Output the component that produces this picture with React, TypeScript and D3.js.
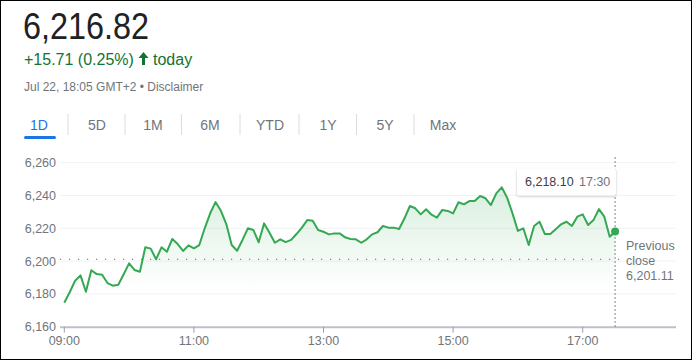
import React from "react";
import * as d3 from "d3";

// 5-minute closes, 09:00 -> 17:30
const prices = [
  6174.6, 6181, 6188, 6191.3, 6181.3, 6194.4, 6192.1, 6191.7, 6186.6, 6185, 6185.6, 6192,
  6198.6, 6194.6, 6193.5, 6208.4, 6207.6, 6201.1, 6208.4, 6205.7, 6213.5, 6210.4, 6206.2, 6209.6,
  6207.8, 6209.8, 6220, 6229, 6236, 6230.7, 6222.6, 6209.8, 6206.3, 6212.9, 6220, 6219,
  6211.5, 6223, 6217.3, 6211.2, 6213.3, 6211.6, 6212.9, 6216.5, 6220.4, 6225, 6224.6, 6219,
  6217.9, 6216.3, 6216.9, 6216.9, 6214.5, 6213.5, 6213.3, 6211.2, 6213.3, 6216.3, 6217.6, 6221.4,
  6220.4, 6220.4, 6219.6, 6226.1, 6233.6, 6232.2, 6228.5, 6231.6, 6228.3, 6226.5, 6231.2, 6230.6,
  6229.1, 6235.9, 6234.6, 6236.6, 6236.6, 6239.7, 6238.3, 6234.2, 6241.3, 6245, 6238.7, 6229.1,
  6218.4, 6220, 6209.8, 6221.4, 6224, 6216.5, 6216.5, 6219.4, 6222.4, 6224, 6221.4, 6227.1,
  6228.5, 6222, 6225, 6231.7, 6227.1, 6214.9, 6218.1,
];
const yTicks = [6160, 6180, 6200, 6220, 6240, 6260];
const xTickHours = [9, 11, 13, 15, 17];
const tabs = ["1D", "5D", "1M", "6M", "YTD", "1Y", "5Y", "Max"];
const previousClose = 6201.11;

const day = (h: number, m: number) => new Date(2022, 6, 22, h, m);
const points = prices.map((v, i) => ({ t: day(9, i * 5), v }));

const FONT = "Arial, 'Liberation Sans', sans-serif";
const GREEN = "#34a853";
const GREY = "#70757a";

export default function App() {
  const x = d3.scaleTime().domain([day(9, 0), day(18, 25)]).range([64.3, 674.5]);
  const y = d3.scaleLinear().domain([6160, 6260]).range([326.7, 162.7]);

  const line = d3.line<{ t: Date; v: number }>().x(d => x(d.t)).y(d => y(d.v));
  const area = d3
    .area<{ t: Date; v: number }>()
    .x(d => x(d.t))
    .y0(y(6160))
    .y1(d => y(d.v));

  const last = points[points.length - 1];
  const lx = x(last.t);
  const tabX = [39, 97, 153, 210, 270, 328, 385, 443];

  return (
    <svg
      width={692}
      height={360}
      style={{ position: "absolute", left: 0, top: 0, display: "block" }}
      fontFamily={FONT}
    >
      <defs>
        <linearGradient id="fillGrad" gradientUnits="userSpaceOnUse" x1="0" y1={y(6250)} x2="0" y2={y(6182)}>
          <stop offset="0%" stopColor={GREEN} stopOpacity={0.2} />
          <stop offset="100%" stopColor={GREEN} stopOpacity={0} />
        </linearGradient>
        <filter id="shadow" x="-20%" y="-40%" width="140%" height="180%">
          <feDropShadow dx="0" dy="1" stdDeviation="1.2" floodColor="#000" floodOpacity="0.25" />
        </filter>
      </defs>
      <rect x={0} y={0} width={692} height={360} fill="#fff" />

      {/* header */}
      <text x={23} y={39} fontSize={36} fill="#202124" textLength={126} lengthAdjust="spacingAndGlyphs">
        6,216.82
      </text>
      <text x={24} y={65} fontSize={16} fill="#137333">
        +15.71 (0.25%)
      </text>
      <path d="M143.5,52 L148.5,58 L145,58 L145,65 L142,65 L142,58 L138.5,58 Z" fill="#137333" />
      <text x={153} y={65} fontSize={16} fill="#137333">
        today
      </text>
      <text x={24} y={91} fontSize={12} fill={GREY}>
        Jul 22, 18:05 GMT+2 • Disclaimer
      </text>

      {/* tabs */}
      {tabs.map((t, i) => (
        <text
          key={t}
          x={tabX[i]}
          y={130}
          fontSize={14}
          textAnchor="middle"
          fill={i === 0 ? "#1a73e8" : GREY}
        >
          {t}
        </text>
      ))}
      {tabX.slice(0, -1).map((tx, i) => (
        <line key={i} x1={(tx + tabX[i + 1]) / 2} x2={(tx + tabX[i + 1]) / 2} y1={114} y2={135} stroke="#dadce0" />
      ))}
      <rect x={24} y={136} width={32} height={3} rx={1.5} fill="#1a73e8" />

      {/* grid */}
      {yTicks.map(t => (
        <g key={t}>
          {t !== 6160 && <line x1={60} x2={676} y1={y(t)} y2={y(t)} stroke="#f1f3f4" />}
          <text x={56} y={y(t) + 4.5} fontSize={12.5} textAnchor="end" fill={GREY}>
            {d3.format(",")(t)}
          </text>
        </g>
      ))}

      {/* area + line */}
      <path d={area(points) ?? ""} fill="url(#fillGrad)" />
      <line
        x1={60}
        x2={lx + 4}
        y1={y(previousClose)}
        y2={y(previousClose)}
        stroke="#5f6368"
        strokeWidth={1}
        strokeDasharray="1.2 7.8"
      />
      <path d={line(points) ?? ""} fill="none" stroke={GREEN} strokeWidth={2} strokeLinejoin="round" />

      {/* x axis */}
      <line x1={60} x2={676} y1={y(6160) + 0.5} y2={y(6160) + 0.5} stroke="#bdc1c6" strokeWidth={2} />
      {xTickHours.map(h => (
        <g key={h}>
          <line x1={x(day(h, 0))} x2={x(day(h, 0))} y1={y(6160)} y2={y(6160) + 6} stroke="#9aa0a6" />
          <text x={x(day(h, 0))} y={345} fontSize={12.5} textAnchor="middle" fill={GREY}>
            {d3.timeFormat("%H:%M")(day(h, 0))}
          </text>
        </g>
      ))}

      {/* cursor */}
      <line x1={lx} x2={lx} y1={157} y2={327} stroke="#80868b" strokeDasharray="2 2" />
      <circle cx={lx} cy={y(last.v)} r={4} fill={GREEN} />
      <rect x={517} y={168.5} width={99} height={27} rx={2} fill="#fff" filter="url(#shadow)" />
      <text x={525} y={186} fontSize={12.5} fill="#3c4043">
        6,218.10
      </text>
      <text x={579} y={186} fontSize={12.5} fill={GREY}>
        17:30
      </text>

      {/* previous close label */}
      <text x={626} fontSize={12.5} fill={GREY}>
        <tspan x={626} y={250}>Previous</tspan>
        <tspan x={626} y={265}>close</tspan>
        <tspan x={626} y={280}>{d3.format(",.2f")(previousClose)}</tspan>
      </text>

      <rect x={0.5} y={0.5} width={691} height={359} fill="none" stroke="#000" strokeWidth={1} />
    </svg>
  );
}
